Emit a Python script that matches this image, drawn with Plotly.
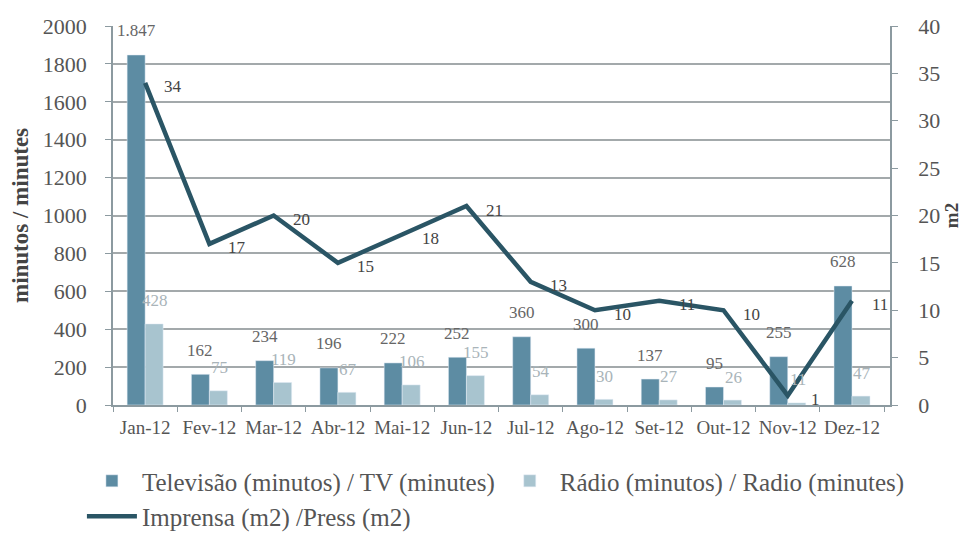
import plotly.graph_objects as go

months = ["Jan-12", "Fev-12", "Mar-12", "Abr-12", "Mai-12", "Jun-12",
          "Jul-12", "Ago-12", "Set-12", "Out-12", "Nov-12", "Dez-12"]
tv = [1847, 162, 234, 196, 222, 252, 360, 300, 137, 95, 255, 628]
radio = [428, 75, 119, 67, 106, 155, 54, 30, 27, 26, 11, 47]
press = [34, 17, 20, 15, 18, 21, 13, 10, 11, 10, 1, 11]
tv_text = ["1.847", "162", "234", "196", "222", "252", "360", "300", "137", "95", "255", "628"]
radio_text = [str(v) for v in radio]
press_text = [str(v) for v in press]

FONT = "Liberation Serif"
TV_C = "#5d8ca3"
RADIO_C = "#a8c4cf"
LINE_C = "#2a5565"
AX_C = "#8c9aa0"

fig = go.Figure()
fig.add_trace(go.Bar(x=months, y=tv, name="Televisão (minutos) / TV (minutes)",
                     marker_color=TV_C, offsetgroup="tv"))
fig.add_trace(go.Bar(x=months, y=radio, name="Rádio (minutos) / Radio (minutes)",
                     marker_color=RADIO_C, offsetgroup="radio"))
fig.add_trace(go.Scatter(x=months, y=press, name="Imprensa (m2) /Press (m2)",
                         mode="lines", line=dict(color=LINE_C, width=4.5), yaxis="y2"))

ann = []
for m, v, t in zip(months, tv, tv_text):
    ann.append(dict(x=m, y=v, xref="x", yref="y", text=t, showarrow=False,
                    xshift=-9, yshift=24, font=dict(family=FONT, size=17, color="#666666")))
for m, v, t in zip(months, radio, radio_text):
    ann.append(dict(x=m, y=v, xref="x", yref="y", text=t, showarrow=False,
                    xshift=10, yshift=23, font=dict(family=FONT, size=17, color="#a9b4b9")))
for m, v, t in zip(months, press, press_text):
    ann.append(dict(x=m, y=v, xref="x", yref="y2", text=t, showarrow=False,
                    xshift=28, yshift=-4, font=dict(family=FONT, size=17, color="#444444")))

fig.update_layout(
    width=959, height=528,
    margin=dict(l=105, r=77, t=18, b=131, autoexpand=False),
    paper_bgcolor="white", plot_bgcolor="white",
    barmode="group", bargap=0.44, bargroupgap=0,
    font=dict(family=FONT, size=17, color="#555555"),
    showlegend=True,
    legend=dict(orientation="h", x=-0.04, xanchor="left", y=-0.14, yanchor="top",
                font=dict(family=FONT, size=25, color="#555555"),
                traceorder="normal", itemwidth=50, tracegroupgap=0),
    annotations=ann,
    xaxis=dict(showgrid=False, showline=True, linecolor=AX_C, linewidth=1.5, automargin=False,
               ticks="outside", tickson="boundaries", ticklen=5, tickcolor=AX_C,
               tickangle=0, ticklabelstandoff=4,
               tickfont=dict(family=FONT, size=19, color="#555555")),
    yaxis=dict(range=[0, 2000], dtick=200, showgrid=True, gridcolor="#a3a9ab", gridwidth=1.5,
               showline=True, linecolor=AX_C, linewidth=1.5, zeroline=False, automargin=False,
               ticks="outside", ticklen=6, tickcolor=AX_C, ticklabelstandoff=14,
               tickfont=dict(family=FONT, size=22, color="#555555"),
               title=dict(text="<b>minutos / minutes</b>", font=dict(family=FONT, size=23, color="#444444"),
                          standoff=12)),
    yaxis2=dict(range=[0, 40], dtick=5, overlaying="y", side="right", showgrid=False,
                showline=True, linecolor=AX_C, linewidth=1.5, zeroline=False, automargin=False,
                ticks="outside", ticklen=6, tickcolor=AX_C, ticklabelstandoff=16,
                tickfont=dict(family=FONT, size=22, color="#555555"),
                title=dict(text="<b>m2</b>", font=dict(family=FONT, size=19, color="#444444"),
                           standoff=6)),
)

fig.write_html("out.html")
